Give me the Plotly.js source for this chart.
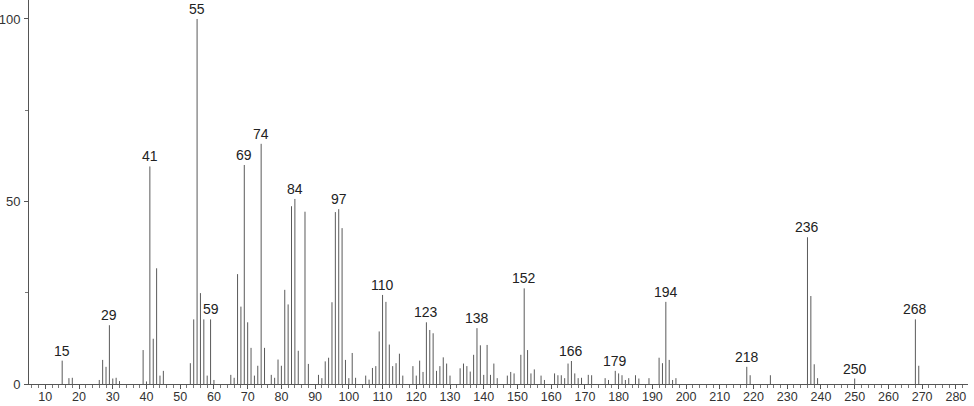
<!DOCTYPE html>
<html>
<head>
<meta charset="utf-8">
<script src="https://cdn.plot.ly/plotly-3.0.1.min.js"></script>
<style>html,body{margin:0;padding:0;background:#fff;}#chart{width:974px;height:406px;}</style>
</head>
<body>
<div id="chart"></div>
<script>
// m/z values
const mz = [15,17,18,26,27,28,29,30,31,32,39,40,41,42,43,44,45,53,54,55,56,57,58,59,60,65,66,67,68,69,70,71,72,73,74,75,77,78,79,80,81,82,83,84,85,87,88,91,92,93,94,95,96,97,98,99,100,101,102,105,106,107,108,109,110,111,112,113,114,115,116,119,120,121,122,123,124,125,126,127,128,129,130,133,134,135,136,137,138,139,140,141,142,143,144,147,148,149,151,152,153,154,155,157,158,161,162,163,164,165,166,167,168,169,171,172,176,177,179,180,181,182,183,185,186,189,192,193,194,195,196,197,218,219,225,236,237,238,239,250,268,269];
// relative intensities
const intensity = [6.4,1.6,1.7,1.1,6.6,4.7,16.1,1.5,1.7,0.8,9.3,0.7,59.6,12.4,31.7,2.3,3.6,5.7,17.7,100,24.9,17.7,2.3,17.7,1.1,2.5,1.7,30.1,21.2,60.0,16.9,9.9,2.3,5.0,65.8,9.9,2.5,1.7,6.7,5.0,25.8,21.8,48.7,50.7,9.1,47.2,5.5,2.5,1.6,6.2,7.2,22.4,47.1,47.9,42.7,6.6,1.6,8.5,1.7,2.3,1.2,4.4,4.9,14.4,24.4,22.5,10.8,4.9,5.7,8.3,2.3,4.9,2.3,6.4,3.3,16.9,14.8,13.9,3.6,4.9,7.3,5.6,2.3,4.3,5.6,4.9,3.4,8.0,15.3,10.6,2.5,10.7,2.5,5.6,1.6,2.3,3.3,2.9,8.0,26.2,9.3,2.9,4.0,2.3,1.1,2.9,2.4,2.4,1.6,5.6,6.3,2.9,1.6,1.7,2.5,2.4,1.6,1.1,3.6,2.9,2.4,1.1,1.6,2.4,1.5,1.6,7.2,5.7,22.5,6.6,1.1,1.6,4.7,2.4,2.4,40.2,24.1,5.4,1.6,1.5,17.7,5.0];
// labelled peaks
const labelledPeaks = [15,29,41,55,59,69,74,84,97,110,123,138,152,166,179,194,218,236,250,268];
// axis ticks
const xTicks = [10,20,30,40,50,60,70,80,90,100,110,120,130,140,150,160,170,180,190,200,210,220,230,240,250,260,270,280];
const yTicks = [0,50,100];

const lx = [], ly = [];
mz.forEach((m, i) => { lx.push(m, m, null); ly.push(0, intensity[i], null); });

const annotations = labelledPeaks.map(m => {
  const v = intensity[mz.indexOf(m)];
  return {x: m, y: v, xref: 'x', yref: 'y', text: String(m), showarrow: false,
          yanchor: 'bottom', xanchor: 'center', yshift: 0,
          font: {family: 'Liberation Sans, Arial, sans-serif', size: 14, color: '#222'}};
});

const trace = {x: lx, y: ly, type: 'scatter', mode: 'lines',
  line: {color: '#5a5a5a', width: 1}, hoverinfo: 'skip', showlegend: false};

const layout = {
  width: 974, height: 406,
  margin: {l: 29, r: 6, t: 0, b: 22, pad: 0},
  paper_bgcolor: '#fff', plot_bgcolor: '#fff',
  showlegend: false,
  xaxis: {range: [5.16, 283.6], tickvals: xTicks, ticktext: xTicks.map(String),
    ticks: 'outside', ticklen: 4, tickwidth: 1, tickcolor: '#555',
    minor: {dtick: 2, tick0: 0, ticks: 'outside', ticklen: 3, tickcolor: '#777', tickwidth: 1},
    showline: true, linecolor: '#555', linewidth: 1, showgrid: false, zeroline: false,
    ticklabelstandoff: -3,
    tickfont: {family: 'Liberation Sans, Arial, sans-serif', size: 12.5, color: '#333'}},
  yaxis: {range: [0, 105.2], tickvals: yTicks, ticktext: yTicks.map(String),
    ticks: 'outside', ticklen: 4, tickwidth: 1, tickcolor: '#555',
    minor: {dtick: 25, tick0: 0, ticks: 'outside', ticklen: 3, tickcolor: '#777', tickwidth: 1},
    showline: true, linecolor: '#555', linewidth: 1, showgrid: false, zeroline: false,
    ticklabelstandoff: 1,
    tickfont: {family: 'Liberation Sans, Arial, sans-serif', size: 13, color: '#333'}},
  annotations: annotations
};

Plotly.newPlot('chart', [trace], layout, {staticPlot: true, displayModeBar: false});
</script>
</body>
</html>
